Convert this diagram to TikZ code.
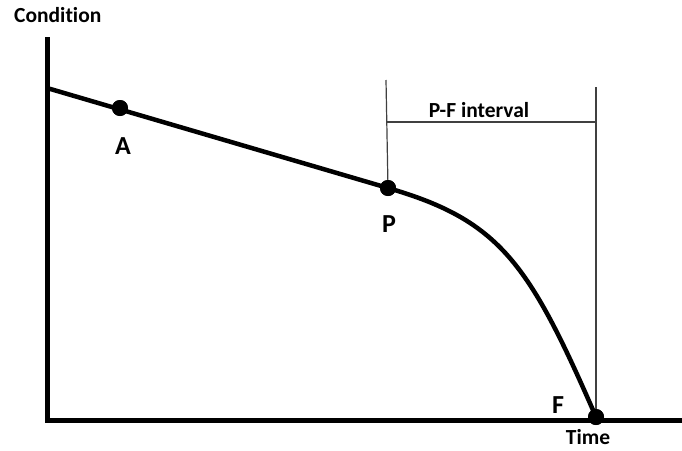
\documentclass[tikz,border=0pt]{standalone}
\usepackage{fontspec}
\setmainfont{Carlito}[Ligatures=NoCommon]
\usetikzlibrary{positioning}

\begin{document}
\begin{tikzpicture}[x=1pt,y=-1pt,
    axis/.style={line width=5pt},
    curve/.style={line width=4.5pt,line join=round},
    guide/.style={line width=1.2pt,draw=black!75},
    dot/.style={circle,fill=black,inner sep=0pt,minimum size=16pt},
    lbl/.style={inner sep=0pt,font=\fontsize{26}{30}\selectfont\bfseries},
    txt/.style={inner sep=0pt,font=\fontsize{21.5}{24}\selectfont\bfseries}]
  \useasboundingbox (0,0) rectangle (682,450);
  % axes
  \coordinate (ytop) at (47,37);
  \coordinate (O) at (47,420);
  \coordinate (xend) at (682,420);
  \draw[axis] (ytop) -- (O) -- (xend);
  \node[txt,anchor=west] (cond) at (14,15) {Condition};
  \node[txt] (time) at (588,437) {Time};
  % points on the curve
  \coordinate (start) at (47,88);
  \node[dot] (A) at (120,108) {};
  \node[dot] (P) at (388,188) {};
  \node[dot] (F) at (596,417) {};
  % P-F interval
  \coordinate (Ptop) at (386,80);
  \coordinate (Ftop) at (596,87);
  \coordinate (Pmark) at (386,122);
  \coordinate (Fmark) at (596,122);
  \draw[guide] (Ptop) -- (P.center);
  \draw[guide] (Ftop) -- (F.center);
  \draw[guide] (Pmark) -- (Fmark);
  \node[txt] (pf) at (479,110) {P-F interval};
  % condition curve
  \draw[curve] (start) -- (P.center)
    .. controls (500,220.5) and (529,263) .. (F.center);
  \node[dot] at (A) {};
  \node[dot] at (P) {};
  \node[dot] at (F) {};
  \node[lbl] (Albl) at (123,146) {A};
  \node[lbl] (Plbl) at (389,224) {P};
  \node[lbl] (Flbl) at (558,405) {F};
\end{tikzpicture}
\end{document}
